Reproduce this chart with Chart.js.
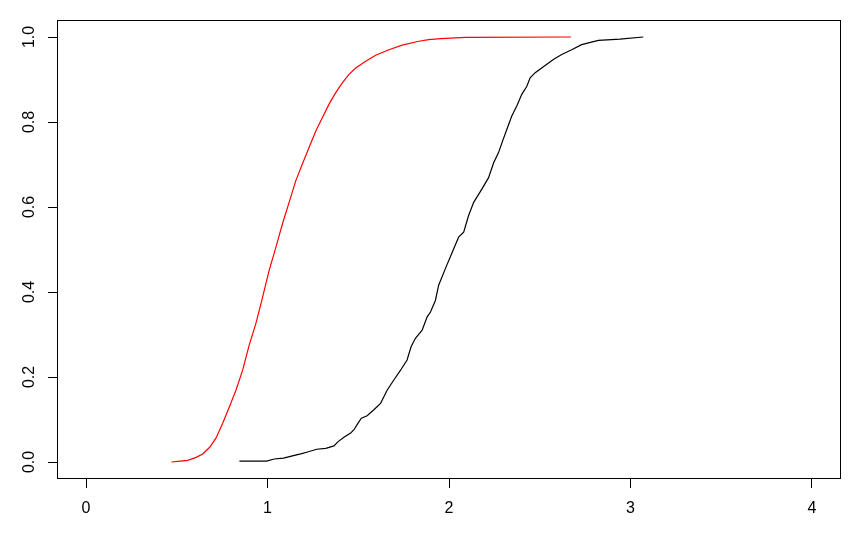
<!DOCTYPE html>
<html>
<head>
<meta charset="utf-8">
<script src="https://cdn.jsdelivr.net/npm/chart.js@4/dist/chart.umd.min.js"></script>
<style>
  html, body { margin: 0; padding: 0; background: #fff; }
  #c { display: block; }
</style>
</head>
<body>
<canvas id="c" width="861" height="537"></canvas>
<script>
// Red ECDF
const redX = [0.471,0.519,0.56,0.607,0.643,0.68,0.716,0.753,0.79,0.826,0.863,0.899,0.936,0.973,1.009,1.046,1.082,1.119,1.156,1.192,1.229,1.266,1.302,1.339,1.376,1.412,1.449,1.486,1.541,1.596,1.669,1.742,1.834,1.888,1.954,2.093,2.672];
const redY = [0.0,0.002,0.004,0.011,0.019,0.034,0.056,0.091,0.130,0.169,0.216,0.275,0.326,0.388,0.451,0.505,0.560,0.611,0.662,0.701,0.740,0.779,0.810,0.842,0.869,0.892,0.912,0.927,0.943,0.957,0.970,0.981,0.990,0.994,0.996,0.999,1.0];

// Black ECDF
const blackX = [0.845,0.995,1.037,1.088,1.143,1.183,1.216,1.271,1.321,1.366,1.389,1.421,1.458,1.476,1.498,1.517,1.549,1.586,1.623,1.659,1.696,1.733,1.769,1.791,1.815,1.852,1.879,1.898,1.925,1.943,1.980,2.026,2.053,2.081,2.108,2.136,2.181,2.218,2.246,2.273,2.295,2.319,2.346,2.374,2.401,2.429,2.447,2.475,2.520,2.575,2.621,2.676,2.731,2.823,2.942,3.07];
const blackY = [0.002,0.002,0.007,0.009,0.015,0.019,0.023,0.030,0.032,0.038,0.048,0.058,0.068,0.076,0.091,0.103,0.109,0.123,0.138,0.169,0.193,0.216,0.240,0.271,0.291,0.310,0.341,0.353,0.380,0.416,0.455,0.502,0.529,0.541,0.580,0.611,0.642,0.669,0.704,0.728,0.755,0.783,0.814,0.838,0.865,0.884,0.904,0.916,0.930,0.947,0.959,0.970,0.982,0.992,0.995,1.0];

// Tick labels
const xTicks = [0, 1, 2, 3, 4];
const yTicks = [0, 0.2, 0.4, 0.6, 0.8, 1.0];

const toPts = (xs, ys) => xs.map((x, i) => ({ x: x, y: ys[i] }));

const boxPlugin = {
  id: 'box',
  afterDraw(chart) {
    const a = chart.chartArea;
    const ctx = chart.ctx;
    ctx.save();
    ctx.strokeStyle = '#000';
    ctx.lineWidth = 1;
    ctx.strokeRect(Math.round(a.left) + 0.5, Math.round(a.top) + 0.5,
                   Math.round(a.right - a.left) - 1, Math.round(a.bottom - a.top) - 1);
    ctx.restore();
  }
};

const FONT = { family: '"Liberation Sans", Arial, sans-serif', size: 16 };

new Chart(document.getElementById('c'), {
  type: 'scatter',
  data: {
    datasets: [
      { data: toPts(redX, redY), showLine: true, borderColor: '#ff0000', borderWidth: 1.2, pointRadius: 0, tension: 0, fill: false },
      { data: toPts(blackX, blackY), showLine: true, borderColor: '#000000', borderWidth: 1.2, pointRadius: 0, tension: 0, fill: false }
    ]
  },
  options: {
    responsive: false,
    animation: false,
    events: [],
    layout: { padding: { top: 20, right: 20, left: 0, bottom: 0 } },
    plugins: { legend: { display: false }, tooltip: { enabled: false } },
    scales: {
      x: {
        type: 'linear',
        min: -0.16, max: 4.16,
        afterBuildTicks: s => { s.ticks = xTicks.map(v => ({ value: v })); },
        afterFit: s => { s.height = 58; },
        grid: { display: true, drawOnChartArea: false, drawTicks: true, tickLength: 9, color: '#000', lineWidth: 1 },
        border: { display: false },
        ticks: { color: '#000', font: FONT, padding: 11, autoSkip: false, maxRotation: 0, minRotation: 0,
                 callback: v => String(v) }
      },
      y: {
        type: 'linear',
        min: -0.04, max: 1.04,
        afterBuildTicks: s => { s.ticks = yTicks.map(v => ({ value: v })); },
        afterFit: s => { s.width = 57; },
        grid: { display: true, drawOnChartArea: false, drawTicks: true, tickLength: 9, color: '#000', lineWidth: 1 },
        border: { display: false },
        ticks: { color: '#000', font: FONT, padding: 7, autoSkip: false, minRotation: 90, maxRotation: 90,
                 crossAlign: 'center', callback: v => Number(v).toFixed(1) }
      }
    }
  },
  plugins: [boxPlugin]
});
</script>
</body>
</html>
